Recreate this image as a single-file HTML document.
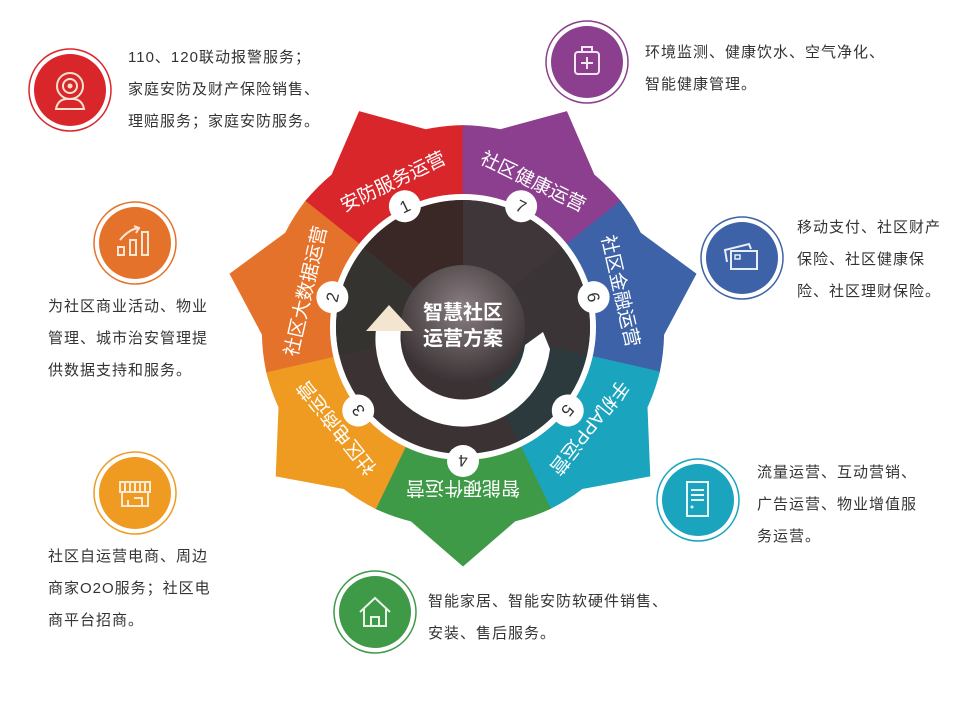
<!DOCTYPE html>
<html><head><meta charset="utf-8"><style>
html,body{margin:0;padding:0;background:#fff;}
body{width:959px;height:708px;overflow:hidden;position:relative;font-family:"Liberation Sans","Noto Sans CJK SC",sans-serif;}
.t{position:absolute;font-size:15px;letter-spacing:1px;color:#333;line-height:32px;white-space:nowrap;}
</style></head><body>
<svg width="959" height="708" style="position:absolute;left:0;top:0" font-family="Liberation Sans, Noto Sans CJK SC, sans-serif">
<defs>
<path id="w" d="M0,0 L-87.5,-181.5 A201,201 0 0 1 -52,-194 L0,-239 L52,-194 A201,201 0 0 1 87.5,-181.5 Z"/>
<radialGradient id="cg" cx="50%" cy="35%" r="60%"><stop offset="0" stop-color="#8a7f82"/><stop offset="1" stop-color="#3a3234"/></radialGradient>
</defs>
<g transform="translate(463,327)">
<use href="#w" transform="rotate(-25.71)" fill="#d8262b" stroke="#d8262b" stroke-width="0.8"/>
<use href="#w" transform="rotate(25.71)" fill="#8b3f8e" stroke="#8b3f8e" stroke-width="0.8"/>
<use href="#w" transform="rotate(77.14)" fill="#3d62a7" stroke="#3d62a7" stroke-width="0.8"/>
<use href="#w" transform="rotate(128.57)" fill="#1ba4bd" stroke="#1ba4bd" stroke-width="0.8"/>
<use href="#w" transform="rotate(180)" fill="#3f9a47" stroke="#3f9a47" stroke-width="0.8"/>
<use href="#w" transform="rotate(231.43)" fill="#ef9b22" stroke="#ef9b22" stroke-width="0.8"/>
<use href="#w" transform="rotate(282.86)" fill="#e5722a" stroke="#e5722a" stroke-width="0.8"/>
<circle r="133" fill="#fff"/>
<circle r="127" fill="#3a3233"/>
<path d="M0,0 L0,-127 A127,127 0 0 1 99,-79 Z" fill="#3e3638"/>
<path d="M0,0 L99,-79 A127,127 0 0 1 124,28 Z" fill="#3b3436"/>
<path d="M0,0 L124,28 A127,127 0 0 1 55,114 Z" fill="#2c3a3e"/>
<path d="M0,0 L-99,-79 A127,127 0 0 1 0,-127 Z" fill="#3a2826"/>
<path d="M0,0 L-124,28 A127,127 0 0 1 -99,-79 Z" fill="#343330"/>
<circle r="62" fill="url(#cg)"/>
<path d="M-87,2 A87,87 0 0 0 87,22 L80,5 L62,18 A62,62 0 0 1 -62,2 Z" fill="#fff"/>
<polygon points="-97,4 -50,4 -74,-22" fill="#f3e5d0"/>
<text x="0" y="-8" text-anchor="middle" fill="#fff" font-size="20" font-weight="bold">智慧社区</text>
<text x="0" y="18" text-anchor="middle" fill="#fff" font-size="20" font-weight="bold">运营方案</text>
<g font-size="19" fill="#fff" text-anchor="middle">
<text transform="rotate(-25.71)" y="-155">安防服务运营</text>
<text transform="rotate(25.71)" y="-155">社区健康运营</text>
<text transform="rotate(77.14)" y="-155">社区金融运营</text>
<text transform="rotate(128.57)" y="-155">手机APP运营</text>
<text transform="rotate(180)" y="-155">智能硬件运营</text>
<text transform="rotate(231.43)" y="-155">社区电商运营</text>
<text transform="rotate(282.86)" y="-155">社区大数据运营</text>
</g>
<g font-size="17" fill="#333" text-anchor="middle">
<g transform="rotate(-25.71)"><circle cy="-134" r="16" fill="#fff"/><text y="-128">1</text></g>
<g transform="rotate(25.71)"><circle cy="-134" r="16" fill="#fff"/><text y="-128">7</text></g>
<g transform="rotate(77.14)"><circle cy="-134" r="16" fill="#fff"/><text y="-128">6</text></g>
<g transform="rotate(128.57)"><circle cy="-134" r="16" fill="#fff"/><text y="-128">5</text></g>
<g transform="rotate(180)"><circle cy="-134" r="16" fill="#fff"/><text y="-128">4</text></g>
<g transform="rotate(231.43)"><circle cy="-134" r="16" fill="#fff"/><text y="-128">3</text></g>
<g transform="rotate(282.86)"><circle cy="-134" r="16" fill="#fff"/><text y="-128">2</text></g>
</g>
</g>
<g fill="none" stroke-width="2">
<circle cx="70" cy="90" r="41" stroke="#d8262b" fill="#fff" stroke-width="1.5"/><circle cx="70" cy="90" r="36" fill="#d8262b" stroke="none"/>
<circle cx="70" cy="86" r="13" stroke="#f6e2d0"/><circle cx="70" cy="86" r="7" stroke="#f6e2d0"/><circle cx="70" cy="86" r="2.5" fill="#f6e2d0" stroke="none"/><path d="M56,109 Q58,98 70,99 Q82,98 84,109 Z" stroke="#f6e2d0"/>
<circle cx="587" cy="62" r="41" stroke="#8b3f8e" fill="#fff" stroke-width="1.5"/><circle cx="587" cy="62" r="36" fill="#8b3f8e" stroke="none"/>
<rect x="575" y="52" width="24" height="22" rx="3" stroke="#f3e6f3"/><path d="M582,52 V47 H592 V52 M587,57 V69 M581,63 H593" stroke="#f3e6f3"/>
<circle cx="135" cy="243" r="41" stroke="#e5722a" fill="#fff" stroke-width="1.5"/><circle cx="135" cy="243" r="36" fill="#e5722a" stroke="none"/>
<rect x="118" y="247" width="6" height="8" stroke="#fbe7d6"/><rect x="130" y="240" width="6" height="15" stroke="#fbe7d6"/><rect x="142" y="232" width="6" height="23" stroke="#fbe7d6"/><path d="M120,240 Q128,230 138,228 M134,226 L139,228 L136,233" stroke="#fbe7d6"/>
<circle cx="742" cy="258" r="41" stroke="#3d62a7" fill="#fff" stroke-width="1.5"/><circle cx="742" cy="258" r="36" fill="#3d62a7" stroke="none"/>
<rect x="731" y="251" width="26" height="18" stroke="#e8eef8"/><path d="M727,262 L725,250 L749,244 L751,249" stroke="#e8eef8"/><rect x="735" y="255" width="5" height="4" stroke="#e8eef8" stroke-width="1.5"/>
<circle cx="135" cy="493" r="41" stroke="#ef9b22" fill="#fff" stroke-width="1.5"/><circle cx="135" cy="493" r="36" fill="#ef9b22" stroke="none"/>
<path d="M120,482 H150 V492 H120 Z M125,482 V492 M130,482 V492 M135,482 V492 M140,482 V492 M145,482 V492 M122,492 V506 H148 V492 M128,500 V506 M134,498 H142 V506" stroke="#fcebd4"/>
<circle cx="698" cy="500" r="41" stroke="#1ba4bd" fill="#fff" stroke-width="1.5"/><circle cx="698" cy="500" r="36" fill="#1ba4bd" stroke="none"/>
<rect x="687" y="482" width="21" height="34" stroke="#e6f6f9"/><path d="M691,490 H704 M691,495 H704 M691,500 H704" stroke="#e6f6f9"/><circle cx="692" cy="507" r="1.5" fill="#e6f6f9" stroke="none"/>
<circle cx="375" cy="612" r="41" stroke="#3f9a47" fill="#fff" stroke-width="1.5"/><circle cx="375" cy="612" r="36" fill="#3f9a47" stroke="none"/>
<path d="M360,612 L375,598 L390,612 M364,609 V626 H386 V609 M371,626 V617 H379 V626" stroke="#e8f5e9"/>
</g>
</svg>
<div class="t" style="left:128px;top:42px">110、120联动报警服务；<br>家庭安防及财产保险销售、<br>理赔服务；家庭安防服务。</div>
<div class="t" style="left:645px;top:37px">环境监测、健康饮水、空气净化、<br>智能健康管理。</div>
<div class="t" style="left:48px;top:291px">为社区商业活动、物业<br>管理、城市治安管理提<br>供数据支持和服务。</div>
<div class="t" style="left:797px;top:212px">移动支付、社区财产<br>保险、社区健康保<br>险、社区理财保险。</div>
<div class="t" style="left:48px;top:541px">社区自运营电商、周边<br>商家O2O服务；社区电<br>商平台招商。</div>
<div class="t" style="left:757px;top:457px">流量运营、互动营销、<br>广告运营、物业增值服<br>务运营。</div>
<div class="t" style="left:428px;top:586px">智能家居、智能安防软硬件销售、<br>安装、售后服务。</div>
</body></html>
